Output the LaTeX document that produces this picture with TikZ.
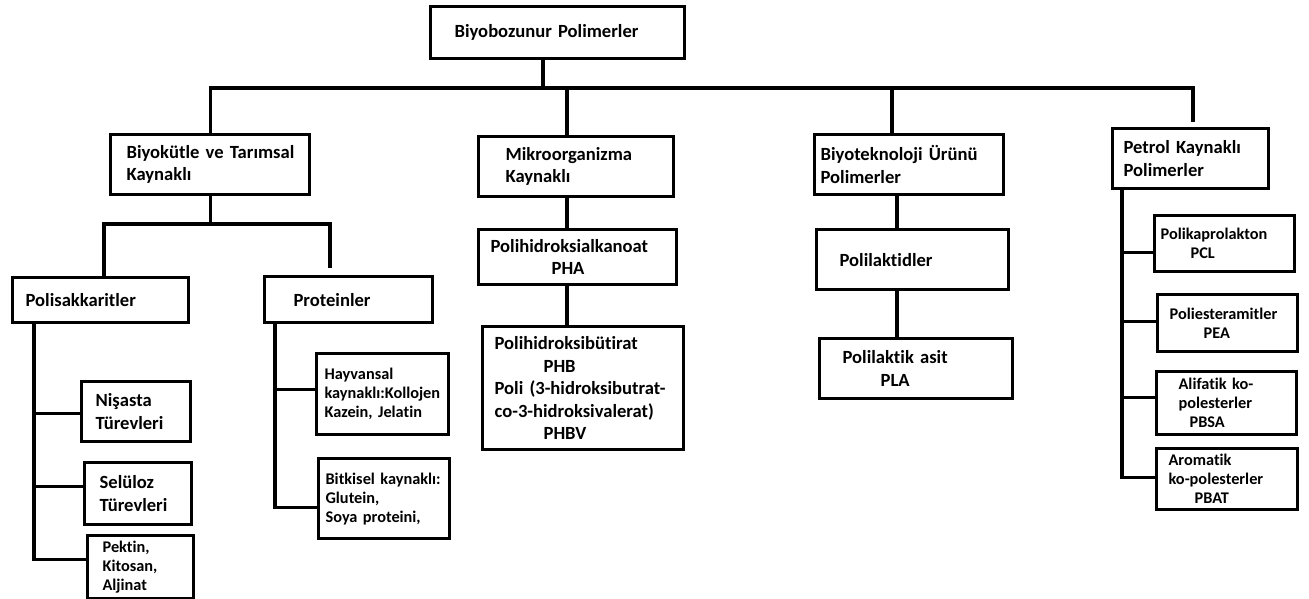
\documentclass[tikz,border=0pt]{standalone}
\usepackage{fontspec}
\setmainfont{Carlito}[Ligatures=NoCommon]
\usepackage{tikz}
\tikzset{
    box/.style={draw, line width=3.2pt, anchor=north west, align=left, inner ysep=0pt,
        font=\bfseries\fontsize{18.6}{22.5}\selectfont,
        execute at begin node={\hyphenpenalty=10000 \exhyphenpenalty=10000}},
    small/.style={font=\bfseries\fontsize{16.3}{19}\selectfont},
    link/.style={line width=3.2pt}
}

\begin{document}
\begin{tikzpicture}[x=1pt, y=-1pt]
    \useasboundingbox (0,0) rectangle (1309,599);
    % boxes
    \node[box, inner xsep=24pt, text width=206pt, minimum height=52] (root) at (429,5) {Biyobozunur~Polimerler};
    \node[box, inner xsep=16pt, text width=167pt, minimum height=60] (bio) at (109,133) {Biyokütle~ve~Tarımsal\\Kaynaklı};
    \node[box, inner xsep=27pt, text width=141pt, minimum height=60] (mikro) at (477,135) {Mikroorganizma\\Kaynaklı};
    \node[box, inner xsep=6pt, text width=177pt, minimum height=60] (biotek) at (813,133) {Biyoteknoloji~Ürünü\\Polimerler};
    \node[box, inner xsep=11pt, text width=134pt, minimum height=60] (petrol) at (1111,127) {Petrol~Kaynaklı\\Polimerler};

    \node[box, inner xsep=13pt, text width=150pt, minimum height=45] (polisak) at (11,276) {Polisakkaritler};
    \node[box, inner xsep=29pt, text width=110pt, minimum height=46] (protein) at (263,275) {Proteinler};
    \node[box, inner xsep=14pt, text width=81pt, minimum height=60] (nisasta) at (80,380) {Nişasta\\Türevleri};
    \node[box, inner xsep=15pt, text width=77pt, minimum height=62] (seluloz) at (83,461) {Selüloz\\Türevleri};
    \node[box, small, inner xsep=15pt, text width=76pt, minimum height=63] (pektin) at (86,534) {Pektin,\\Kitosan,\\Aljinat};
    \node[box, small, inner xsep=8pt, text width=116pt, minimum height=81] (hayvan) at (315,352) {Hayvansal\\kaynaklı:Kollojen\\Kazein,~Jelatin};
    \node[box, small, inner xsep=7pt, text width=117pt, minimum height=80] (bitki) at (317,457) {Bitkisel~kaynaklı:\\Glutein,\\Soya~proteini,};

    \node[box, inner xsep=12pt, text width=174pt, minimum height=55] (pha) at (477,228) {Polihidroksialkanoat\\\hspace*{61pt}PHA};
    \node[box, inner xsep=12pt, text width=177pt, minimum height=123] (phb) at (481,325)
        {Polihidroksibütirat\\\hspace*{49pt}PHB\\Poli~(3-hidroksibutrat-\\co-3-hidroksivalerat)\\\hspace*{49pt}PHBV};

    \node[box, inner xsep=23pt, text width=146pt, minimum height=60] (plaktid) at (815,228) {Polilaktidler\\[10pt]};
    \node[box, inner xsep=23pt, text width=147pt, minimum height=60] (pla) at (818,337) {Polilaktik~asit\\\hspace*{38pt}PLA};

    \node[box, small, inner xsep=6pt, text width=128pt, minimum height=56] (pcl) at (1153,214) {Polikaprolakton\\\hspace*{30pt}PCL};
    \node[box, small, inner xsep=12pt, text width=116pt, minimum height=57] (pea) at (1156,293) {Poliesteramitler\\\hspace*{34pt}PEA};
    \node[box, small, inner xsep=22pt, text width=96pt, minimum height=63] (pbsa) at (1155,370) {Alifatik~ko-\\polesterler\\\hspace*{11pt}PBSA};
    \node[box, small, inner xsep=12pt, text width=117pt, minimum height=61] (pbat) at (1155,447) {Aromatik\\ko-polesterler\\\hspace*{26pt}PBAT};

    % joints
    \coordinate (j0) at (543,88);
    \coordinate (jm) at (567,0);
    \coordinate (jb) at (892,0);
    \coordinate (jp) at (1193,0);
    \coordinate (jl) at (104,224);
    \coordinate (jr) at (330,224);
    \coordinate (sv) at (34,0);
    \coordinate (pv) at (275,0);
    \coordinate (jt) at (897,0);
    \coordinate (tv) at (1122,0);

    % top level
    \draw[link] (root.south -| j0) -- (j0);
    \draw[link, shorten >=5pt] (bio.north) |- (j0 -| jp) -- (jp |- petrol.north);
    \draw[link] (j0 -| jm) -- (jm |- mikro.north);
    \draw[link] (j0 -| jb) -- (jb |- biotek.north);

    % biyokutle
    \draw[link] (bio.south) -- (bio.south |- jl);
    \draw[link, shorten >=7pt] (polisak.north -| jl) -- (jl) -- (jr) -- (jr |- protein.north);
    \draw[link] (polisak.south -| sv) |- ([yshift=8pt]pektin.west);
    \foreach \n/\s in {nisasta/-2, seluloz/7}
        \draw[link] ([yshift=\s pt]\n.west -| sv) -- ([yshift=\s pt]\n.west);
    \draw[link] (protein.south -| pv) |- ([yshift=-9pt]bitki.west);
    \draw[link] ([yshift=5pt]hayvan.west -| pv) -- ([yshift=5pt]hayvan.west);

    % mikroorganizma
    \draw[link] (mikro.south -| jm) -- (pha.north -| jm);
    \draw[link] (pha.south -| jm) -- (phb.north -| jm);

    % biyoteknoloji
    \draw[link] (biotek.south -| jt) -- (plaktid.north -| jt);
    \draw[link] (plaktid.south -| jt) -- (pla.north -| jt);

    % petrol
    \draw[link] (petrol.south -| tv) |- ([yshift=2pt]pbat.west);
    \foreach \n/\s in {pcl/-9, pea/2, pbsa/6}
        \draw[link] ([yshift=\s pt]\n.west -| tv) -- ([yshift=\s pt]\n.west);

\end{tikzpicture}
\end{document}
